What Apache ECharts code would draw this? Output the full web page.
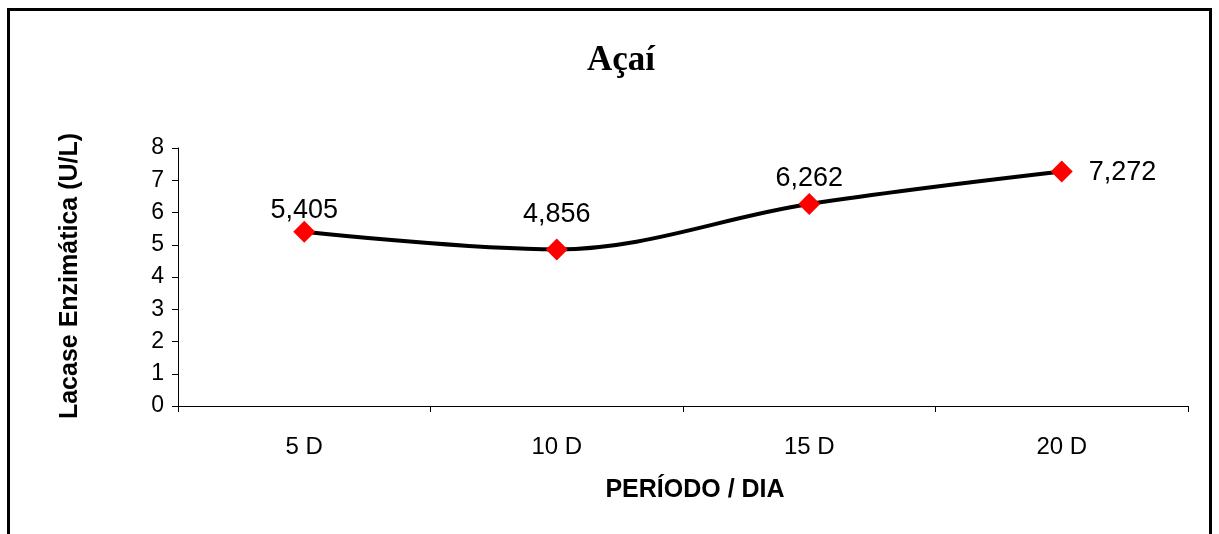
<!DOCTYPE html>
<html>
<head>
<meta charset="utf-8">
<script src="https://cdn.jsdelivr.net/npm/echarts@6/dist/echarts.min.js"></script>
<style>
html, body { margin: 0; padding: 0; background: #fff; }
#main { width: 1219px; height: 534px; }
</style>
</head>
<body>
<div id="main"></div>
<script>
var periodos = ['5 D', '10 D', '15 D', '20 D'];
var lacase = [5.405, 4.856, 6.262, 7.272];

// ajuste fino dos rotulos (como no grafico original)
var ajusteRotulo = [
	{ position: 'top', distance: 10, offset: [0, 13] },
	{ position: 'top', distance: 10, offset: [0, 0] },
	{ position: 'top', distance: 10, offset: [0, 9] },
	{ position: 'right', distance: 16, offset: [0, 1] }
];

var pontos = lacase.map(function (v, i) {
	return { value: v, label: ajusteRotulo[i] };
});

var chart = echarts.init(document.getElementById('main'));
chart.setOption({
	backgroundColor: '#fff',
	animation: false,
	title: {
		text: 'Açaí',
		left: 616,
		top: 38,
		textAlign: 'center',
		textStyle: {
			fontFamily: 'Liberation Serif',
			fontWeight: 'bold',
			fontSize: 35,
			color: '#000'
		}
	},
	grid: { left: 178, right: 31, top: 148, bottom: 128 },
	graphic: [
		{ type: 'rect', shape: { x: 8.5, y: 9.5, width: 1202, height: 560 },
		  style: { fill: 'none', stroke: '#000', lineWidth: 3 } },
		{ type: 'text', x: 70, y: 276, rotation: Math.PI / 2,
		  style: { text: 'Lacase Enzimática (U/L)', fontFamily: 'Liberation Sans', fontWeight: 'bold',
		           fontSize: 25, fill: '#000', align: 'center', verticalAlign: 'middle' } },
		{ type: 'text', x: 695, y: 490,
		  style: { text: 'PERÍODO / DIA', fontFamily: 'Liberation Sans', fontWeight: 'bold',
		           fontSize: 25, fill: '#000', align: 'center', verticalAlign: 'middle' } }
	],
	xAxis: {
		type: 'category',
		data: periodos,
		boundaryGap: true,
		axisLine: { lineStyle: { color: '#000', width: 1 } },
		axisTick: { show: true, length: 6, lineStyle: { color: '#000' } },
		axisLabel: { color: '#000', fontFamily: 'Liberation Sans', fontSize: 24, margin: 29 },
		splitLine: { show: false }
	},
	yAxis: {
		type: 'value',
		min: 0,
		max: 8,
		interval: 1,
		axisLine: { show: true, lineStyle: { color: '#000', width: 1 } },
		axisTick: { show: true, length: 6, lineStyle: { color: '#000' } },
		axisLabel: { color: '#000', fontFamily: 'Liberation Sans', fontSize: 23, margin: 14 },
		splitLine: { show: false }
	},
	series: [{
		type: 'line',
		data: pontos,
		smooth: 0.35,
		symbol: 'diamond',
		symbolSize: 22,
		lineStyle: { color: '#000', width: 4 },
		itemStyle: { color: '#ff0000' },
		label: {
			show: true,
			color: '#000',
			fontFamily: 'Liberation Sans',
			fontSize: 27,
			formatter: function (p) { return String(p.value).replace('.', ','); }
		}
	}]
});
</script>
</body>
</html>
